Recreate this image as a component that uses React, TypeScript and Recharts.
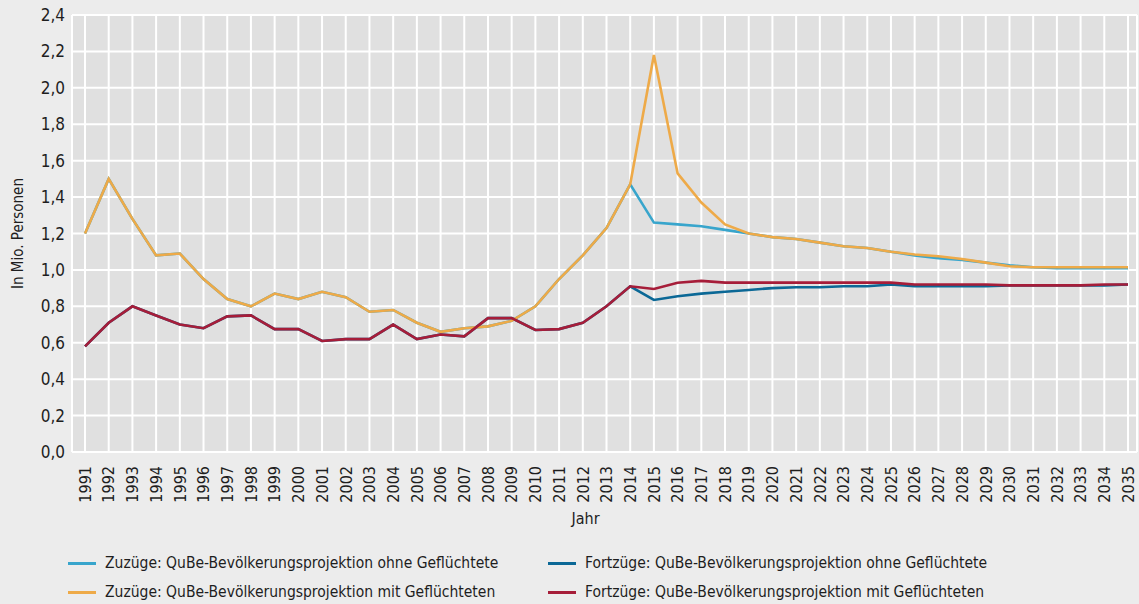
import { LineChart, Line, XAxis, YAxis, CartesianGrid } from 'recharts';

const years = [
  '1991', '1992', '1993', '1994', '1995', '1996', '1997', '1998', '1999', '2000',
  '2001', '2002', '2003', '2004', '2005', '2006', '2007', '2008', '2009', '2010',
  '2011', '2012', '2013', '2014', '2015', '2016', '2017', '2018', '2019', '2020',
  '2021', '2022', '2023', '2024', '2025', '2026', '2027', '2028', '2029', '2030',
  '2031', '2032', '2033', '2034', '2035',
];

const zuzuegeOhne = [
  1.2, 1.5, 1.28, 1.08, 1.09, 0.95, 0.84, 0.8, 0.87, 0.84,
  0.88, 0.85, 0.77, 0.78, 0.71, 0.66, 0.68, 0.69, 0.72, 0.8,
  0.95, 1.08, 1.23, 1.47, 1.26, 1.25, 1.24, 1.22, 1.2, 1.18,
  1.17, 1.15, 1.13, 1.12, 1.1, 1.08, 1.065, 1.055, 1.04, 1.025,
  1.015, 1.01, 1.01, 1.01, 1.01,
];

const zuzuegeMit = [
  1.2, 1.5, 1.28, 1.08, 1.09, 0.95, 0.84, 0.8, 0.87, 0.84,
  0.88, 0.85, 0.77, 0.78, 0.71, 0.66, 0.68, 0.69, 0.72, 0.8,
  0.95, 1.08, 1.23, 1.47, 2.18, 1.53, 1.37, 1.25, 1.2, 1.18,
  1.17, 1.15, 1.13, 1.12, 1.1, 1.085, 1.075, 1.06, 1.04, 1.02,
  1.015, 1.015, 1.015, 1.015, 1.015,
];

const fortzuegeOhne = [
  0.58, 0.71, 0.8, 0.75, 0.7, 0.68, 0.745, 0.75, 0.675, 0.675,
  0.61, 0.62, 0.62, 0.7, 0.62, 0.645, 0.635, 0.735, 0.735, 0.67,
  0.675, 0.71, 0.8, 0.91, 0.835, 0.855, 0.87, 0.88, 0.89, 0.9,
  0.905, 0.905, 0.91, 0.91, 0.92, 0.91, 0.91, 0.91, 0.91, 0.915,
  0.915, 0.915, 0.915, 0.915, 0.92,
];

const fortzuegeMit = [
  0.58, 0.71, 0.8, 0.75, 0.7, 0.68, 0.745, 0.75, 0.675, 0.675,
  0.61, 0.62, 0.62, 0.7, 0.62, 0.645, 0.635, 0.735, 0.735, 0.67,
  0.675, 0.71, 0.8, 0.91, 0.895, 0.93, 0.94, 0.93, 0.93, 0.93,
  0.93, 0.93, 0.93, 0.93, 0.93, 0.92, 0.92, 0.92, 0.92, 0.915,
  0.915, 0.915, 0.915, 0.92, 0.92,
];

const yTicks = [0, 0.2, 0.4, 0.6, 0.8, 1.0, 1.2, 1.4, 1.6, 1.8, 2.0, 2.2, 2.4];

const series = [
  { key: 'zuzuegeOhne', name: 'Zuzüge: QuBe-Bevölkerungsprojektion ohne Geflüchtete', color: '#38a5cc' },
  { key: 'fortzuegeOhne', name: 'Fortzüge: QuBe-Bevölkerungsprojektion ohne Geflüchtete', color: '#0b6896' },
  { key: 'zuzuegeMit', name: 'Zuzüge: QuBe-Bevölkerungsprojektion mit Geflüchteten', color: '#eeaa48' },
  { key: 'fortzuegeMit', name: 'Fortzüge: QuBe-Bevölkerungsprojektion mit Geflüchteten', color: '#a61d39' },
];

const data = years.map((year, i) => ({
  year,
  zuzuegeOhne: zuzuegeOhne[i],
  zuzuegeMit: zuzuegeMit[i],
  fortzuegeOhne: fortzuegeOhne[i],
  fortzuegeMit: fortzuegeMit[i],
}));

const font = "'DejaVu Sans Condensed', 'DejaVu Sans', sans-serif";
const textColor = '#1e1e1e';

const YearTick = (props: any) => {
  const { x, y, payload } = props;
  return (
    <text
      x={x}
      y={y + 6}
      transform={`rotate(-90, ${x}, ${y + 6})`}
      textAnchor="end"
      dy="0.36em"
      fontSize={16}
      fontFamily={font}
      fill={textColor}
    >
      {payload.value}
    </text>
  );
};

export default function App() {
  return (
    <div style={{ position: 'relative', width: 1139, height: 604, background: '#ececec' }}>
      <style>{`body{margin:0;background:#ececec}`}</style>
      <LineChart width={1139} height={604} data={data} margin={{ top: 15, right: 2, left: 0, bottom: 72 }}>
        <CartesianGrid stroke="#ffffff" strokeWidth={2} fill="#e0e0e0" fillOpacity={1} />
        <XAxis
          dataKey="year"
          height={80}
          interval={0}
          axisLine={false}
          tickLine={false}
          padding={{ left: 13, right: 9 }}
          tick={<YearTick />}
          label={{ value: 'Jahr', position: 'insideBottom', offset: 8, dx: -19, fontSize: 16, fontFamily: font, fill: textColor }}
        />
        <YAxis
          width={72}
          domain={[0, 2.4]}
          ticks={yTicks}
          interval={0}
          axisLine={false}
          tickLine={false}
          tickSize={0}
          tickMargin={7}
          tickFormatter={(v: number) => v.toFixed(1).replace('.', ',')}
          tick={{ fontSize: 17, fontFamily: font, fill: textColor }}
          label={{ value: 'In Mio. Personen', angle: -90, position: 'insideLeft', offset: 18, fontSize: 15, fontFamily: font, fill: textColor, style: { textAnchor: 'middle' } }}
        />
        {series.map((s) => (
          <Line
            key={s.key}
            type="linear"
            dataKey={s.key}
            name={s.name}
            stroke={s.color}
            strokeWidth={2.6}
            dot={false}
            activeDot={false}
            isAnimationActive={false}
          />
        ))}
      </LineChart>
      <div
        style={{
          position: 'absolute',
          left: 68,
          top: 552,
          width: 1000,
          display: 'grid',
          gridTemplateColumns: '480px 480px',
          rowGap: 7,
          fontFamily: font,
          fontSize: 15.5,
          color: textColor,
        }}
      >
        {series.map((s) => (
          <div key={s.key} style={{ display: 'flex', alignItems: 'center', height: 22 }}>
            <span style={{ display: 'inline-block', width: 28, height: 3, background: s.color, marginRight: 9 }} />
            <span>{s.name}</span>
          </div>
        ))}
      </div>
    </div>
  );
}
